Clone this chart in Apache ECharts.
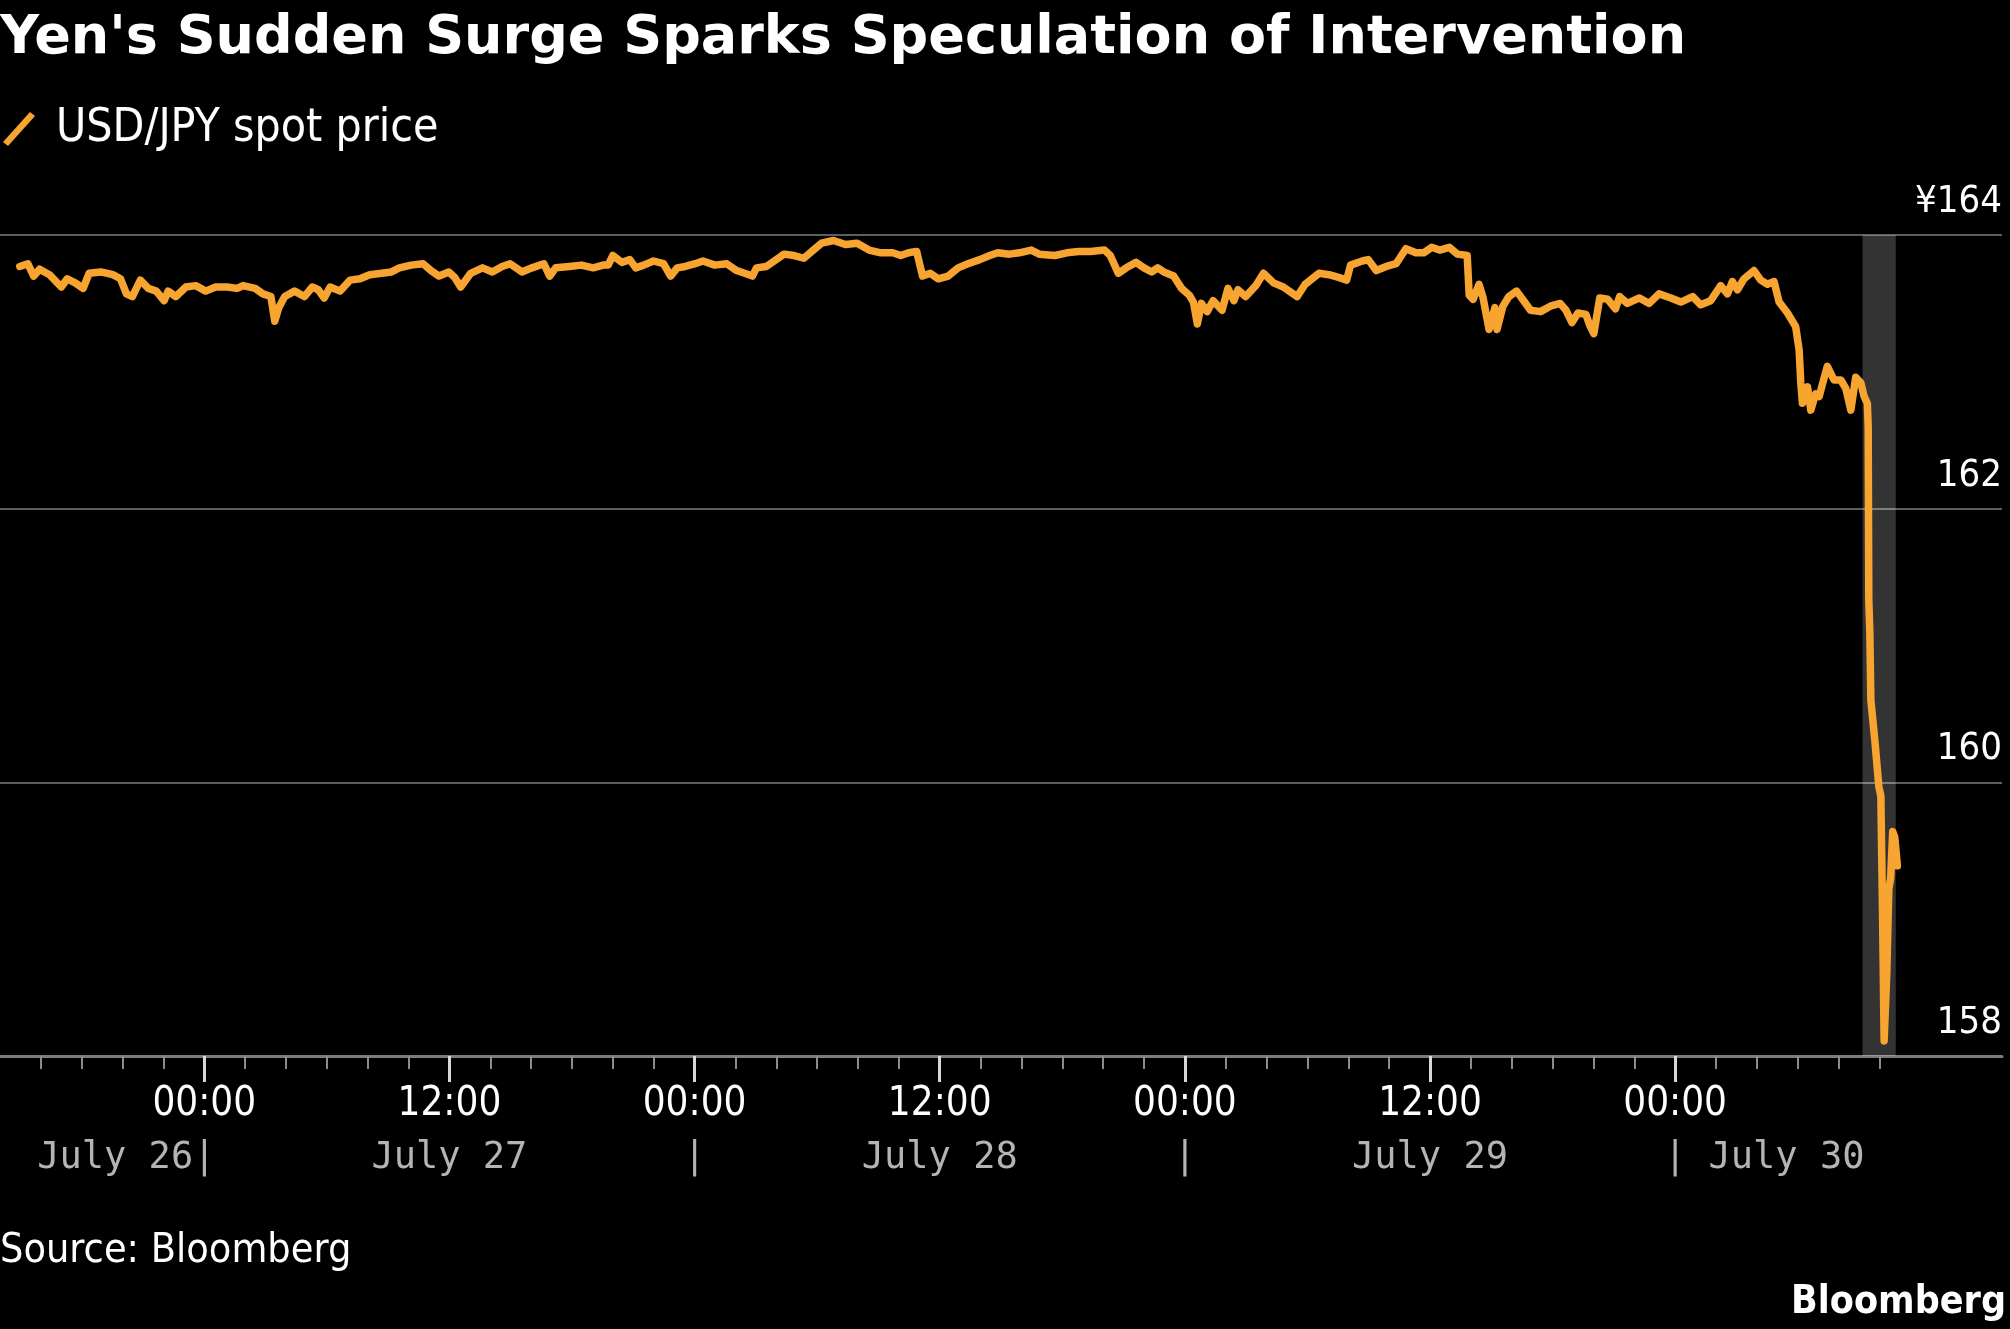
<!DOCTYPE html>
<html>
<head>
<meta charset="utf-8">
<title>Yen's Sudden Surge Sparks Speculation of Intervention</title>
<script src="https://cdn.jsdelivr.net/npm/echarts@6/dist/echarts.min.js"></script>
<style>
  html, body { margin: 0; padding: 0; background: #000; }
  #chart { width: 2010px; height: 1329px; }
</style>
</head>
<body>
<div id="chart"></div>
<script>
// hours counted from 14:00 on July 26
const hours = [
  0.97, 1.36, 1.65, 1.94, 2.42, 3.00, 3.29, 3.68, 4.07, 4.36, 4.94, 5.52, 5.90, 6.19, 6.48, 6.87,
  7.26, 7.65, 8.03, 8.23, 8.61, 9.10, 9.58, 10.07, 10.55, 11.13, 11.61, 11.90, 12.49, 12.87, 13.26, 13.45,
  13.65, 13.94, 14.42, 14.90, 15.29, 15.58, 15.87, 16.16, 16.65, 17.13, 17.62, 18.10, 18.68, 19.16, 19.55, 20.13,
  20.71, 21.10, 21.49, 21.97, 22.26, 22.55, 23.04, 23.62, 24.10, 24.58, 24.97, 25.55, 26.04, 26.62, 26.91, 27.20,
  27.87, 28.46, 29.04, 29.52, 29.77, 30.00, 30.44, 30.83, 31.12, 31.51, 31.99, 32.48, 32.83, 33.15, 33.54, 34.03,
  34.41, 34.99, 35.57, 36.06, 36.45, 36.83, 37.03, 37.51, 37.90, 38.38, 38.87, 39.35, 39.74, 40.22, 40.80, 41.38,
  41.96, 42.54, 43.12, 43.70, 44.09, 44.48, 44.87, 45.16, 45.54, 45.93, 46.41, 46.90, 47.38, 47.96, 48.45, 48.84,
  49.41, 49.90, 50.48, 50.87, 51.64, 52.22, 52.80, 53.38, 54.06, 54.35, 54.74, 55.13, 55.61, 56.00, 56.38, 56.67,
  56.97, 57.45, 57.84, 58.22, 58.42, 58.61, 58.81, 59.09, 59.38, 59.82, 60.11, 60.40, 60.60, 60.98, 61.47, 61.85,
  62.34, 62.82, 63.11, 63.50, 63.89, 64.57, 65.05, 65.53, 65.92, 66.11, 66.69, 66.98, 67.37, 67.86, 68.34, 68.82,
  69.31, 69.69, 70.08, 70.47, 70.95, 71.34, 71.82, 71.92, 72.11, 72.40, 72.60, 72.89, 73.18, 73.28, 73.57, 73.86,
  74.24, 74.63, 74.92, 75.41, 75.89, 76.37, 76.66, 76.95, 77.24, 77.63, 77.82, 78.02, 78.31, 78.70, 79.08, 79.28,
  79.66, 80.25, 80.73, 81.21, 81.79, 82.28, 82.86, 83.25, 83.74, 84.23, 84.56, 84.80, 85.05, 85.37, 85.86, 86.19,
  86.52, 86.84, 87.09, 87.50, 87.90, 88.07, 88.15, 88.23, 88.48, 88.64, 88.88, 89.05, 89.21, 89.45, 89.78, 90.11,
  90.35, 90.60, 90.84, 91.09, 91.25, 91.41, 91.45, 91.48, 91.53, 91.58, 91.78, 91.97, 92.07, 92.15, 92.23, 92.36,
  92.46, 92.55, 92.65, 92.75, 92.88
];
const prices = [
  163.77, 163.79, 163.70, 163.75, 163.71, 163.62, 163.68, 163.65, 163.61, 163.72, 163.73, 163.71, 163.68, 163.57, 163.55, 163.67,
  163.61, 163.59, 163.52, 163.59, 163.55, 163.62, 163.63, 163.59, 163.62, 163.62, 163.61, 163.63, 163.61, 163.57, 163.55, 163.37,
  163.47, 163.55, 163.59, 163.55, 163.62, 163.60, 163.54, 163.62, 163.59, 163.67, 163.68, 163.71, 163.72, 163.73, 163.76, 163.78,
  163.79, 163.74, 163.70, 163.73, 163.69, 163.62, 163.72, 163.76, 163.73, 163.77, 163.79, 163.73, 163.76, 163.79, 163.70, 163.76,
  163.77, 163.78, 163.76, 163.78, 163.78, 163.85, 163.80, 163.82, 163.76, 163.78, 163.81, 163.79, 163.70, 163.76, 163.77, 163.79,
  163.81, 163.78, 163.79, 163.74, 163.72, 163.70, 163.76, 163.77, 163.81, 163.86, 163.85, 163.83, 163.88, 163.94, 163.96, 163.93,
  163.94, 163.89, 163.87, 163.87, 163.85, 163.87, 163.88, 163.70, 163.72, 163.68, 163.70, 163.76, 163.79, 163.82, 163.85, 163.87,
  163.86, 163.87, 163.89, 163.86, 163.85, 163.87, 163.88, 163.88, 163.89, 163.85, 163.72, 163.76, 163.80, 163.76, 163.73, 163.76,
  163.73, 163.70, 163.61, 163.56, 163.51, 163.35, 163.50, 163.44, 163.52, 163.45, 163.61, 163.52, 163.60, 163.55, 163.63, 163.72,
  163.65, 163.62, 163.59, 163.55, 163.64, 163.72, 163.71, 163.69, 163.67, 163.78, 163.81, 163.82, 163.74, 163.77, 163.79, 163.90,
  163.87, 163.87, 163.91, 163.89, 163.91, 163.86, 163.85, 163.56, 163.53, 163.64, 163.54, 163.31, 163.47, 163.31, 163.48, 163.55,
  163.59, 163.51, 163.45, 163.44, 163.48, 163.50, 163.45, 163.36, 163.43, 163.42, 163.34, 163.28, 163.54, 163.53, 163.46, 163.55,
  163.50, 163.54, 163.50, 163.57, 163.54, 163.51, 163.55, 163.49, 163.52, 163.63, 163.57, 163.66, 163.60, 163.68, 163.74, 163.67,
  163.64, 163.66, 163.51, 163.43, 163.33, 163.16, 162.92, 162.77, 162.89, 162.72, 162.84, 162.82, 162.91, 163.04, 162.94, 162.94,
  162.88, 162.72, 162.96, 162.92, 162.82, 162.77, 162.60, 161.33, 161.10, 160.60, 160.30, 159.97, 159.90, 159.07, 158.11, 158.60,
  159.22, 159.30, 159.64, 159.60, 159.39
];
const dayLabels = ['July 26', 'July 27', 'July 28', 'July 29', 'July 30'];
const timeLabels = ['00:00', '12:00'];
const yTicks = [158, 160, 162, 164];
const highlight = [91.17, 92.80];   // shaded window, hours from 14:00 July 26
const seriesName = 'USD/JPY spot price';

const W = 2010, H = 1329;
const plotTop = 235, plotBottom = H - 1056;
const plotLeft = 0, plotRight = 8;
const spanHours = 98;
const pxh = (W - plotLeft - plotRight) / spanHours;
const cond = "'DejaVu Sans Condensed', 'DejaVu Sans', sans-serif";
const mono = 'DejaVu Sans Mono';
const monoSize = 37, monoAdv = monoSize * 0.602;
const orange = '#f7a430';
const labelMargin = 26, timeLH = 46, dateLH = 60;

function gridFor(x0, x1) {
  return { left: x0, right: W - x1, top: plotTop, bottom: plotBottom };
}
const hx = function (h) { return plotLeft + h * pxh; };

let chart = echarts.init(document.getElementById('chart'));
let option = {
  backgroundColor: '#000',
  animation: false,
  title: [{
    text: "Yen's Sudden Surge Sparks Speculation of Intervention",
    left: 0, top: 12, padding: 0,
    textStyle: { color: '#fff', fontFamily: 'DejaVu Sans', fontWeight: 'bold', fontSize: 54 }
  }, {
    text: 'Source: Bloomberg',
    left: 0, top: 1231, padding: 0,
    textStyle: { color: '#fff', fontFamily: cond, fontWeight: 'normal', fontSize: 41 }
  }, {
    text: 'Bloomberg',
    right: 4, top: 1283, padding: 0,
    textStyle: { color: '#fff', fontFamily: cond, fontWeight: 'bold', fontSize: 39 }
  }],
  legend: {
    data: [seriesName],
    left: 3, top: 106, padding: 0,
    icon: 'path://M0,30 L27,0 L32,4 L5,34 Z',
    itemWidth: 32, itemHeight: 34,
    textStyle: { color: '#fff', fontFamily: cond, fontSize: 46, padding: [0, 0, 0, 16] }
  },
  grid: [
    gridFor(plotLeft, W - plotRight),
    gridFor(hx(2), hx(92)),
    gridFor(hx(10), hx(82)),
    // centres of the two side date labels, next to the first and last day separators
    gridFor(hx(10) - 4 * monoAdv, hx(82) + 5 * monoAdv)
  ],
  xAxis: [{
    gridIndex: 0, type: 'value', min: 0, max: spanHours,
    axisLine: { show: true, lineStyle: { color: '#7c7c7c', width: 3 } },
    axisTick: { show: false }, axisLabel: { show: false }, splitLine: { show: false }
  }, {
    // 2-hour ticks, counted from 16:00 July 26
    gridIndex: 1, type: 'value', min: 0, max: 90, interval: 2,
    axisLine: { show: false },
    axisTick: { show: true, length: 13, lineStyle: { color: '#8c8c8c', width: 2 } },
    axisLabel: { show: false }, splitLine: { show: false }
  }, {
    // 12-hour ticks, counted from 00:00 July 27
    gridIndex: 2, type: 'value', min: 0, max: 72, interval: 12,
    axisLine: { show: false },
    axisTick: { show: true, length: 26, lineStyle: { color: '#d8d8d8', width: 3 } },
    splitLine: { show: false },
    axisLabel: {
      show: true, margin: labelMargin, showMinLabel: true, showMaxLabel: true, hideOverlap: false,
      formatter: function (u) {
        const t = timeLabels[(u % 24) / 12];
        const d = (u % 24 === 12) ? dayLabels[Math.floor(u / 24) + 1] : '|';
        return '{t|' + t + '}\n{d|' + d + '}';
      },
      rich: {
        t: { color: '#fff', fontFamily: cond, fontSize: 40, lineHeight: timeLH },
        d: { color: '#b4b4b4', fontFamily: mono, fontSize: monoSize, lineHeight: dateLH }
      }
    }
  }, {
    // first and last day names
    gridIndex: 3, type: 'value', min: 0, max: 1, interval: 1,
    axisLine: { show: false }, axisTick: { show: false }, splitLine: { show: false },
    axisLabel: {
      show: true, margin: labelMargin + timeLH, showMinLabel: true, showMaxLabel: true,
      color: '#b4b4b4', fontFamily: mono, fontSize: monoSize, lineHeight: dateLH,
      formatter: function (v) { return v === 0 ? dayLabels[0] : dayLabels[dayLabels.length - 1]; }
    }
  }],
  yAxis: [{
    gridIndex: 0, type: 'value', position: 'right',
    min: yTicks[0], max: yTicks[yTicks.length - 1], interval: 2,
    axisLine: { show: false }, axisTick: { show: false },
    splitLine: { show: true, lineStyle: { color: '#5e5e5e', width: 2 } },
    axisLabel: {
      inside: true, margin: 0, verticalAlign: 'bottom', padding: [0, 0, 14, 0],
      color: '#fff', fontFamily: cond, fontSize: 38,
      formatter: function (v) { return v === yTicks[yTicks.length - 1] ? '¥' + v : String(v); }
    }
  },
  { gridIndex: 1, type: 'value', show: false, min: 0, max: 1 },
  { gridIndex: 2, type: 'value', show: false, min: 0, max: 1 },
  { gridIndex: 3, type: 'value', show: false, min: 0, max: 1 }],
  series: [{
    name: seriesName,
    type: 'line',
    xAxisIndex: 0, yAxisIndex: 0,
    data: hours.map(function (h, i) { return [h, prices[i]]; }),
    showSymbol: false, symbol: 'none',
    color: orange,
    lineStyle: { color: orange, width: 7.5, join: 'round', cap: 'round' },
    markArea: {
      silent: true,
      itemStyle: { color: 'rgba(255,255,255,0.2)' },
      data: [[{ xAxis: highlight[0] }, { xAxis: highlight[1] }]]
    }
  }]
};
chart.setOption(option);
</script>
</body>
</html>
